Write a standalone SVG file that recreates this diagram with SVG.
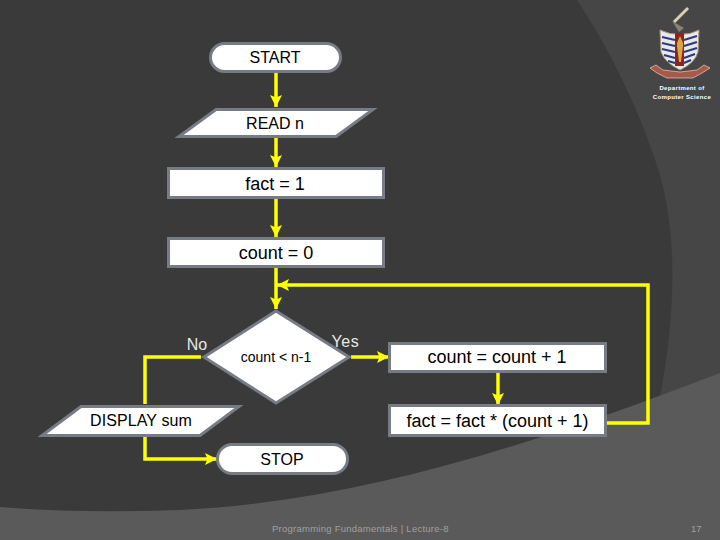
<svg xmlns="http://www.w3.org/2000/svg" width="720" height="540" viewBox="0 0 720 540">
<style>
.s{fill:#fff;stroke:#777b84;stroke-width:3}
.t{font-family:"Liberation Sans",Arial,sans-serif;font-size:16px;fill:#000;text-anchor:middle}
.b{font-size:18px}
.l{font-family:"Liberation Sans",Arial,sans-serif;font-size:16px;fill:#e8e8e8;text-anchor:middle}
.c{fill:none;stroke:#ffff00;stroke-width:3.5}
.f{font-family:"Liberation Sans",Arial,sans-serif;font-size:9.500px;fill:#a0a0a0}
.d{font-family:"Liberation Sans",Arial,sans-serif;font-size:6px;font-weight:bold;fill:#fff;text-anchor:middle;letter-spacing:.35px}
</style>
<defs>
<marker id="a" markerUnits="userSpaceOnUse" markerWidth="14" markerHeight="14" refX="12" refY="7" orient="auto"><path d="M0 1L12 7L0 13L2.500 7Z" fill="#ffff00"/></marker>
</defs>
<rect width="720" height="540" fill="#3a3a3a"/>
<path d="M577 0C610 50 640 110 660 175C675 230 678 300 660 397L720 380V0Z" fill="#464646"/>
<path d="M0 507C60 512 120 512 180 510C350 502 520 450 720 373V540H0Z" fill="#5a5a5a"/>
<g id="logo">
<path d="M674 22L688 8" stroke="#d8d0b0" stroke-width="3" fill="none"/>
<path d="M672 21L684 28L679 32Z" fill="#8a8070"/>
<path d="M660 30Q670 35 680 34Q690 35 699 30L698 52Q695 63 680 70Q665 63 661 52Z" fill="#e8e8ee" stroke="#a89878" stroke-width="1"/>
<g stroke="#2d3c78" stroke-width="2.200" fill="none"><path d="M662 37L675 40M684 40L697 36M662 43L675 46M684 46L697 42M662 49L675 52M684 52L697 48M664 55L675 58M684 58L695 54M668 61L675 63M684 63L691 60"/></g>
<rect x="675" y="33" width="9" height="33" fill="#8c2222"/>
<path d="M680 36L683 43V46L681 62H679L677 46V43Z" fill="#d8a840"/>
<path d="M650 68L656 65L663 70L680 72L697 70L704 65L710 68L702 73L693 78H667L657 73Z" fill="#a85a4a" stroke="#e8d0c0" stroke-width=".700"/>
</g>
<g id="dept"><text class="d" x="682" y="90">Department of</text><text class="d" x="682" y="99">Computer Science</text></g>
<g id="connectors">
<path class="c" d="M276 71V107" marker-end="url(#a)"/>
<path class="c" d="M276 138V167" marker-end="url(#a)"/>
<path class="c" d="M276 199V237" marker-end="url(#a)"/>
<path class="c" d="M276 268V309" marker-end="url(#a)"/>
<path class="c" d="M351 357H389" marker-end="url(#a)"/>
<path class="c" d="M498 373V405" marker-end="url(#a)"/>
<path class="c" d="M606 423H648V285H277" marker-end="url(#a)"/>
<path class="c" d="M201 357H145V404"/>
<path class="c" d="M145 436V459H217" marker-end="url(#a)"/>
</g>
<g id="start"><rect class="s" x="210.500" y="43.500" width="130" height="28" rx="14"/><text class="t" x="275" y="63">START</text></g>
<g id="read"><path class="s" d="M216 109.500H373L336 136.500H179Z"/><text class="t" x="275" y="129">READ n</text></g>
<g id="fact1"><rect class="s" x="168.500" y="168.500" width="215" height="29"/><text class="t b" x="275" y="190">fact = 1</text></g>
<g id="count0"><rect class="s" x="168.500" y="238.500" width="215" height="28"/><text class="t b" x="276" y="259">count = 0</text></g>
<g id="decision"><path class="s" d="M276 311L349 357L276 403L204 357Z"/><text class="t" x="276" y="362" style="font-size:14px">count &lt; n-1</text></g>
<text class="l" x="197" y="350">No</text>
<text class="l" x="345.500" y="347" style="letter-spacing:.6px">Yes</text>
<g id="incr"><rect class="s" x="389.500" y="343.500" width="216" height="28"/><text class="t b" x="497" y="363">count = count + 1</text></g>
<g id="factn"><rect class="s" x="389.500" y="405.500" width="216" height="30"/><text class="t b" x="497.500" y="427">fact = fact * (count + 1)</text></g>
<g id="display"><path class="s" d="M81 406.500H239L200 435.500H42Z"/><text class="t" x="141" y="426" style="letter-spacing:.1px">DISPLAY sum</text></g>
<g id="stop"><rect class="s" x="217.500" y="444.500" width="130" height="29" rx="14.500"/><text class="t" x="282" y="465">STOP</text></g>
<text class="f" x="272" y="532" style="letter-spacing:.25px">Programming Fundamentals | Lecture-8</text>
<text class="f" x="691" y="532">17</text>
</svg>
